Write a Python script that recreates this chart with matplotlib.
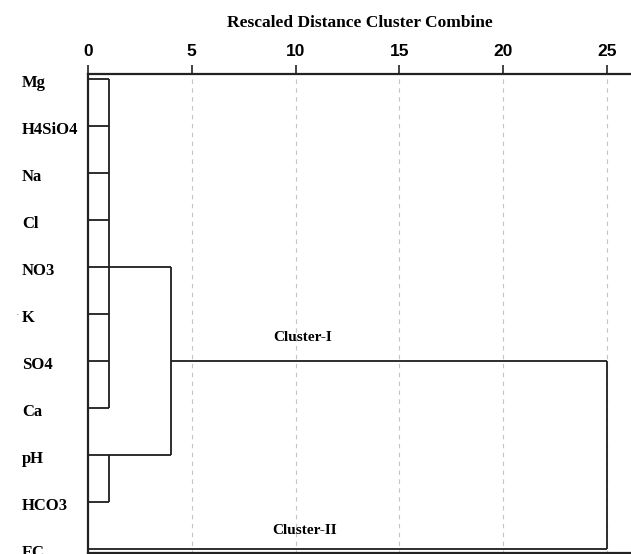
import numpy as np
import matplotlib
matplotlib.use("Agg")
import matplotlib.pyplot as plt

# variables, top to bottom in dendrogram order
labels = ["Mg", "H4SiO4", "Na", "Cl", "NO3", "K", "SO4", "Ca", "pH", "HCO3", "EC"]

# merges: (child node ids, rescaled distance); new node ids start after the leaves
merge_children = [[0, 1, 2, 3, 4, 5, 6, 7], [8, 9], [11, 12], [13, 10]]
merge_dist = [1.0, 1.0, 4.0, 25.0]

dist_ticks = [0, 5, 10, 15, 20, 25]
cluster_names = ["Cluster-I", "Cluster-II"]

W, H = 631, 554
fig = plt.figure(figsize=(W / 100, H / 100), dpi=100)
ax = fig.add_axes([88 / W, 1 / H, (W - 88) / W, (553 - 74) / H])

line_kw = dict(color="#1e1e1e", lw=1.3, solid_capstyle="butt")
n = len(labels)
row = {i: float(i) for i in range(n)}
xpos = {i: 0.0 for i in range(n)}

# grid first so the tree sits on top
ax.vlines(dist_ticks[1:], -0.2, n, colors="#c4c4c4", lw=0.8,
          linestyles=(0, (4, 4)), zorder=1)

for k, (kids, d) in enumerate(zip(merge_children, merge_dist)):
    node = n + k
    for c in kids:
        ax.plot([xpos[c], d], [row[c], row[c]], **line_kw, zorder=2)
    rows = [row[c] for c in kids]
    ax.plot([d, d], [min(rows), max(rows)], **line_kw, zorder=2)
    row[node] = float(np.round(np.mean(rows)))
    xpos[node] = d

ax.set_xlim(0, 26.16)
ax.set_ylim(10.085, -0.106)

ax.xaxis.tick_top()
ax.set_xticks(dist_ticks)
ax.set_xticklabels([str(t) for t in dist_ticks], fontfamily="Liberation Sans",
                   fontweight="bold", fontsize=12.5)
ax.tick_params(axis="x", direction="out", length=6.5, width=1.2, pad=4.5,
               color="#222222")
ax.set_yticks([])
for side in ["top", "left", "bottom"]:
    ax.spines[side].set_linewidth(1.6)
    ax.spines[side].set_color("#222222")
ax.spines["right"].set_visible(False)

ytr = ax.get_yaxis_transform()
for i, lab in enumerate(labels):
    ax.text(-66 / 543, i + 0.08, lab, transform=ytr, ha="left", va="center",
            fontfamily="Liberation Serif", fontweight="bold", fontsize=12,
            clip_on=False)
ax.text(-70 / 543, 5 + 0.02, "\u00b7", transform=ytr, ha="center", va="center",
        fontsize=8, color="#777777", clip_on=False)

ax.text(10.36, 5.49, cluster_names[0], ha="center", va="center",
        fontfamily="Liberation Serif", fontweight="bold", fontsize=11)
ax.text(10.45, 9.6, cluster_names[1], ha="center", va="center",
        fontfamily="Liberation Serif", fontweight="bold", fontsize=11)

fig.text(360 / W, 1 - 23 / H, "Rescaled Distance Cluster Combine",
         ha="center", va="center", fontfamily="Liberation Serif",
         fontweight="bold", fontsize=12.5)

fig.savefig("out.png", dpi=100)
